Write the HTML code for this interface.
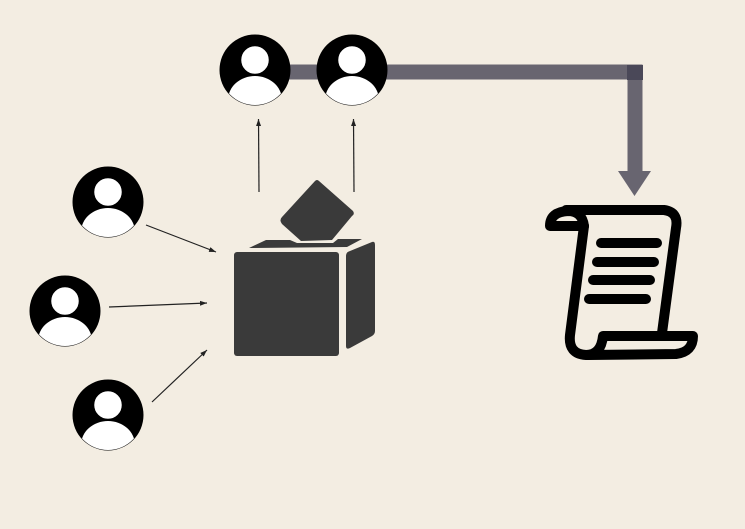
<!DOCTYPE html>
<html><head><style>html,body{margin:0;padding:0;background:#f3ede2;}</style></head>
<body>
<svg width="745" height="524" viewBox="0 0 745 524" xmlns="http://www.w3.org/2000/svg">
<defs>
<clipPath id="c"><circle cx="0" cy="0" r="35"/></clipPath>
<g id="p">
<circle cx="0" cy="0" r="35.5" fill="#000"/>
<g clip-path="url(#c)">
<ellipse cx="0" cy="30" rx="27" ry="24" fill="#fff"/>
</g>
<circle cx="0" cy="-10" r="14.5" fill="#fff" stroke="#000" stroke-width="1.5"/>
</g>
<marker id="a" markerWidth="8" markerHeight="8" refX="7" refY="4" orient="auto" markerUnits="userSpaceOnUse">
<path d="M0,1.5 L7,4 L0,6.5 z" fill="#222"/></marker>
</defs>
<path d="M270,72 L635,72 L635,175" fill="none" stroke="#686570" stroke-width="15"/>
<rect x="627" y="65" width="16" height="15" fill="#4a4858"/>
<path d="M618,171 L651,171 L634.5,196 z" fill="#686570"/>
<use href="#p" x="255" y="70"/>
<use href="#p" x="352" y="70"/>
<use href="#p" x="108" y="202"/>
<use href="#p" x="65" y="311"/>
<use href="#p" x="108" y="415"/>
<g stroke="#222" stroke-width="1.2" fill="none" marker-end="url(#a)">
<line x1="259" y1="192" x2="258.5" y2="119"/>
<line x1="354" y1="192" x2="353.5" y2="119"/>
<line x1="146" y1="225" x2="216" y2="252"/>
<line x1="109" y1="307" x2="207" y2="303"/>
<line x1="152" y1="402" x2="207" y2="350"/>
</g>
<g fill="#3a3a3a">
<rect x="234" y="252" width="105" height="104" rx="3"/>
<path d="M346,256 Q346,252 350,251 L372,242 Q375,241 375,245 L375,331 Q375,334 372,336 L350,348 Q346,350 346,346 z"/>
<path d="M249,248 L266,240 L290,240 L297,243 L333,243 L338,239 L362,239 L347,247 z"/>
<path d="M319,181 L353,211 Q355,214 352,216 L332,240 L301,241 L282,224 Q279,220 282,217 L315,181 Q317,179 319,181 z"/>
</g>
<g fill="none" stroke="#000" stroke-width="10" stroke-linecap="round" stroke-linejoin="round">
<path d="M584,226 Q582,211 568,211 Q550,212 550,226 L584,226"/>
<path d="M566,210 L664,210 Q679,212 676,228 L662,333"/>
<path d="M584,226 L570,335 Q568,354 586,355 Q601,355 603,336 L693,336 Q693,352 676,354 L588,355"/>
<path d="M601,243 L657,243 M597,262 L654,262 M593,280 L650,280 M589,299 L646,299" stroke-width="10"/>
</g>
</svg>
</body></html>
